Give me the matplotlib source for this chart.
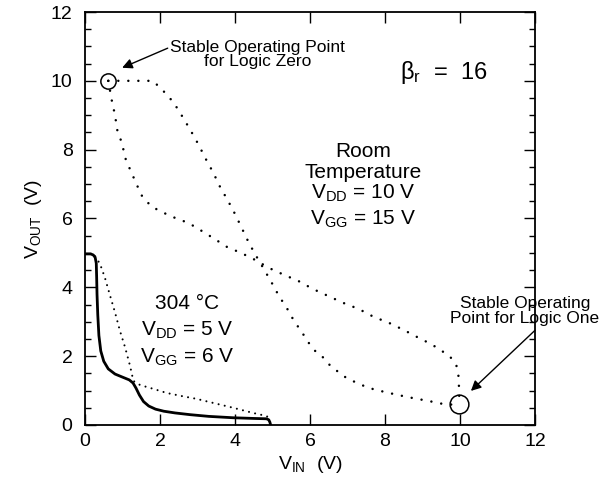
import matplotlib
matplotlib.use("Agg")
import matplotlib.pyplot as plt
from matplotlib.ticker import MultipleLocator

plt.rcParams['font.family'] = ['Liberation Sans', 'DejaVu Sans']
plt.rcParams['mathtext.fontset'] = 'custom'
plt.rcParams['mathtext.rm'] = 'Liberation Sans'
plt.rcParams['mathtext.it'] = 'Liberation Sans:italic'

# room temperature: transfer curve and its mirror (dotted)
rt_vin_a = [0.62, 1.0, 1.4, 1.81, 2.0, 2.22, 2.42, 2.62, 2.82, 3.02, 3.22, 3.42, 3.6, 3.82,
            4.0, 4.19, 4.37, 4.58, 4.78, 4.98, 5.17, 5.38, 5.57, 5.78, 5.97, 6.16, 6.4,
            6.56, 6.8, 7.0, 7.2, 7.55, 7.95, 8.35, 8.75, 9.15, 9.55, 9.95]
rt_vout_a = [10.0, 10.0, 10.0, 10.0, 9.8, 9.56, 9.27, 8.92, 8.55, 8.16, 7.73, 7.33, 6.92, 6.5,
             6.13, 5.7, 5.29, 4.88, 4.51, 4.13, 3.75, 3.4, 3.03, 2.7, 2.38, 2.12, 1.92,
             1.69, 1.51, 1.34, 1.25, 1.08, 0.97, 0.87, 0.78, 0.7, 0.61, 0.58]

rt_vin_b = [0.62, 0.71, 0.8, 0.86, 0.98, 1.09, 1.24, 1.38, 1.53, 1.78, 2.0, 2.22, 2.44, 2.76,
            3.11, 3.42, 3.79, 4.16, 4.53, 4.91, 5.31, 5.68, 6.08, 6.48, 6.88, 7.3, 7.7,
            8.1, 8.5, 8.9, 9.23, 9.52, 9.76, 9.9, 9.95, 9.97, 9.97, 9.98, 9.98]
rt_vout_b = [10.0, 9.45, 9.0, 8.57, 8.2, 7.7, 7.33, 6.98, 6.63, 6.34, 6.22, 6.1, 6.0, 5.87,
             5.64, 5.43, 5.17, 5.0, 4.8, 4.56, 4.36, 4.19, 3.95, 3.75, 3.55, 3.37, 3.14,
             2.97, 2.76, 2.53, 2.35, 2.15, 1.95, 1.74, 1.51, 1.28, 1.05, 0.8, 0.6]

# 304 C curves
hot_vin_solid = [0.0, 0.15, 0.22, 0.27, 0.3, 0.31, 0.32, 0.34, 0.37, 0.42, 0.5, 0.62, 0.8,
                 1.0, 1.18, 1.28, 1.36, 1.45, 1.56, 1.7, 1.88, 2.1, 2.4, 2.8, 3.3, 3.95,
                 4.5, 4.84, 4.9, 4.93, 4.95]
hot_vout_solid = [4.97, 4.97, 4.94, 4.87, 4.7, 4.3, 3.8, 3.2, 2.6, 2.15, 1.85, 1.63, 1.48,
                  1.39, 1.31, 1.22, 1.07, 0.87, 0.68, 0.55, 0.46, 0.4, 0.35, 0.3, 0.25, 0.21,
                  0.19, 0.18, 0.15, 0.08, 0.0]

hot_vin_dot = [0.27, 0.4, 0.53, 0.67, 0.8, 0.93, 1.07, 1.2, 1.29, 1.47, 1.82, 2.18, 2.58,
               2.97, 3.42, 3.95, 4.48, 4.84, 4.95]
hot_vout_dot = [4.9, 4.68, 4.28, 3.75, 3.27, 2.74, 2.25, 1.72, 1.28, 1.16, 1.05, 0.93, 0.84,
                0.76, 0.64, 0.5, 0.35, 0.26, 0.16]

# stable operating points
op_vin = [0.62, 9.97]
op_vout = [10.0, 0.6]

fig = plt.figure(figsize=(6.06, 4.82), dpi=100)
ax = fig.add_axes([0.1403, 0.1183, 0.7426, 0.8568])

dot_big = dict(color='black', lw=1.8, linestyle=(0, (0.01, 4.0)), dash_capstyle='round')
dot_small = dict(color='black', lw=1.5, linestyle=(0, (0.01, 3.0)), dash_capstyle='round')

ax.plot(rt_vin_a, rt_vout_a, **dot_big)
ax.plot(rt_vin_b, rt_vout_b, **dot_big)
ax.plot(hot_vin_dot, hot_vout_dot, **dot_small)
ax.plot(hot_vin_solid, hot_vout_solid, color='black', lw=2.0, solid_joinstyle='round')

ax.plot(op_vin[0], op_vout[0], 'o', ms=11, mfc='none', mec='black', mew=1.1)
ax.plot(op_vin[1], op_vout[1], 'o', ms=13.5, mfc='none', mec='black', mew=1.1)

ax.set_xlim(0, 12)
ax.set_ylim(0, 12)
ax.xaxis.set_major_locator(MultipleLocator(2))
ax.yaxis.set_major_locator(MultipleLocator(2))
ax.yaxis.set_minor_locator(MultipleLocator(0.5))
ax.tick_params(which='both', direction='in', top=True, right=True, width=1.0)
ax.tick_params(which='major', length=8, labelsize=14, pad=6)
ax.tick_params(which='minor', length=4.5)
ax.tick_params(axis='y', which='major', pad=9)
for s in ax.spines.values():
    s.set_linewidth(1.3)

ax.set_xlabel(r'$\mathregular{V_{IN}}$  (V)', fontsize=14, labelpad=3)
ax.set_ylabel(r'$\mathregular{V_{OUT}}$  (V)', fontsize=14, labelpad=5)

ax.annotate('Stable Operating Point\nfor Logic Zero', xy=(0.99, 10.38), xytext=(4.61, 10.77),
            ha='center', va='center', fontsize=12.5, linespacing=0.95,
            arrowprops=dict(arrowstyle='-|>', color='black', lw=1.0, mutation_scale=15,
                            shrinkA=0, shrinkB=0, relpos=(0.0, 0.75)))
ax.annotate('Stable Operating\nPoint for Logic One', xy=(10.29, 0.99), xytext=(11.73, 3.31),
            ha='center', va='center', fontsize=12.5, linespacing=0.95, annotation_clip=False,
            arrowprops=dict(arrowstyle='-|>', color='black', lw=1.0, mutation_scale=15,
                            shrinkA=2, shrinkB=0, relpos=(0.6, 0.0)))

ax.text(9.57, 10.23, r'$\mathregular{\beta_r}$  =  16', ha='center', va='center', fontsize=17)

ax.text(7.41, 7.94, 'Room', ha='center', va='center', fontsize=15)
ax.text(7.41, 7.35, 'Temperature', ha='center', va='center', fontsize=15)
ax.text(7.41, 6.72, r'$\mathregular{V_{DD}}$ = 10 V', ha='center', va='center', fontsize=15)
ax.text(7.41, 5.98, r'$\mathregular{V_{GG}}$ = 15 V', ha='center', va='center', fontsize=15)

ax.text(2.72, 3.52, '304 \u00b0C', ha='center', va='center', fontsize=15)
ax.text(2.72, 2.76, r'$\mathregular{V_{DD}}$ = 5 V', ha='center', va='center', fontsize=15)
ax.text(2.72, 1.96, r'$\mathregular{V_{GG}}$ = 6 V', ha='center', va='center', fontsize=15)

fig.savefig('out.png', dpi=100)
